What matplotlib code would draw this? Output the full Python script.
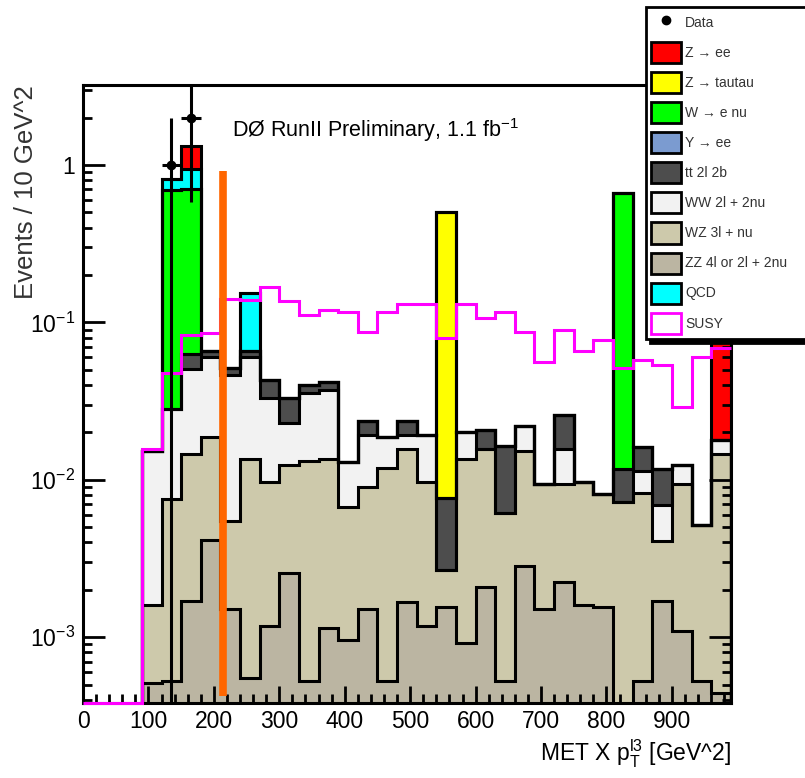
import numpy as np
import matplotlib
matplotlib.use('Agg')
import matplotlib.pyplot as plt
from matplotlib.patches import Patch
from matplotlib.lines import Line2D
from matplotlib.ticker import FixedLocator, FixedFormatter, MultipleLocator, LogLocator, NullFormatter

plt.rcParams['font.family'] = ['Liberation Sans', 'DejaVu Sans']
plt.rcParams['mathtext.default'] = 'regular'

# 33 bins of 30 GeV^2 from 0 to 990
bin_edges = np.arange(0, 991, 30)

# per-process contributions (stacked bottom -> top)
zz = [0, 0, 0, 5.1e-4, 5.3e-4, 1.69e-3, 4.13e-3, 1.50e-3, 5.5e-4, 1.18e-3, 2.56e-3,
      5.3e-4, 1.14e-3, 9.6e-4, 1.50e-3, 5.3e-4, 1.67e-3, 1.17e-3, 1.56e-3, 9.2e-4, 2.07e-3,
      5.3e-4, 2.84e-3, 1.50e-3, 2.24e-3, 1.61e-3, 1.56e-3, 0, 5.3e-4, 1.69e-3, 1.09e-3,
      5.3e-4, 4.4e-4]
wz = [0, 0, 0, 1.10e-3, 7.07e-3, 1.29e-2, 1.45e-2, 4.0e-3, 1.30e-2, 8.5e-3, 9.8e-3,
      1.27e-2, 1.25e-2, 5.8e-3, 7.5e-3, 1.13e-2, 1.41e-2, 8.5e-3, 1.10e-3, 1.27e-2, 1.37e-2,
      5.6e-3, 1.24e-2, 7.9e-3, 7.1e-3, 8.1e-3, 6.6e-3, 7.2e-3, 7.7e-3, 2.4e-3, 8.3e-3,
      4.6e-3, 1.41e-2]
ww = [0, 0, 0, 1.36e-2, 2.04e-2, 3.64e-2, 4.18e-2, 4.07e-2, 4.69e-2, 2.32e-2, 1.05e-2,
      2.23e-2, 2.36e-2, 6.3e-3, 1.02e-2, 6.9e-3, 3.4e-3, 9.7e-3, 0, 6.6e-3, 0,
      0, 6.7e-3, 0, 6.4e-3, 0, 0, 0, 3.1e-3, 2.8e-3, 3.0e-3,
      0, 3.5e-3]
tt = [0, 0, 0, 0, 0, 1.25e-2, 5.6e-3, 4.8e-3, 5.6e-3, 1.05e-2, 1.01e-2,
      4.5e-3, 4.8e-3, 0, 4.4e-3, 0, 4.4e-3, 0, 5.0e-3, 0, 5.1e-3,
      1.02e-2, 0, 0, 9.9e-3, 0, 0, 4.6e-3, 4.8e-3, 4.9e-3, 0,
      0, 0]
y_ee = [0, 0, 0, 0, 0, 0, 0, 0, 0, 0, 0,
        0, 0, 0, 0, 0, 0, 0, 0, 0, 0,
        0, 0, 0, 0, 0, 0, 0, 0, 0, 0,
        0, 0]
w_enu = [0, 0, 0, 0, 0.666, 0.637, 0, 0, 0, 0, 0,
         0, 0, 0, 0, 0, 0, 0, 0, 0, 0,
         0, 0, 0, 0, 0, 0, 0.655, 0, 0, 0,
         0, 0]
z_tautau = [0, 0, 0, 0, 0, 0, 0, 0, 0, 0, 0,
            0, 0, 0, 0, 0, 0, 0, 0.497, 0, 0,
            0, 0, 0, 0, 0, 0, 0, 0, 0, 0,
            0, 0]
qcd = [0, 0, 0, 0, 0.124, 0.239, 0, 0, 0.087, 0, 0,
       0, 0, 0, 0, 0, 0, 0, 0, 0, 0,
       0, 0, 0, 0, 0, 0, 0, 0, 0, 0,
       0, 0]
z_ee = [0, 0, 0, 0, 0, 0.381, 0, 0, 0, 0, 0,
        0, 0, 0, 0, 0, 0, 0, 0, 0, 0,
        0, 0, 0, 0, 0, 0, 0, 0, 0, 0,
        0, 0.10]
susy = [0, 0, 0, 0.0158, 0.0478, 0.083, 0.0863, 0.142, 0.139, 0.167, 0.137,
        0.111, 0.120, 0.117, 0.087, 0.117, 0.131, 0.131, 0.080, 0.131, 0.106,
        0.116, 0.087, 0.0562, 0.0902, 0.066, 0.0772, 0.051, 0.0576, 0.0535, 0.0291,
        0.0599, 0.0684]

data_x = [135, 165]
data_y = [1, 2]

cut_x = 214
cut_range = [4.2e-4, 0.92]

stack = [zz, wz, ww, tt, y_ee, w_enu, z_tautau, qcd, z_ee]
stack_colors = ['#bbb5a2', '#cdc9ab', '#f2f2f2', '#4d4d4d', '#7b9bd0',
                '#00ff00', '#ffff00', '#00ffff', '#ff0000']

ymin, ymax = 3.8e-4, 3.23
floor = 1e-9

fig = plt.figure(figsize=(8.05, 7.78), dpi=100)
ax = fig.add_axes([83 / 805, (778 - 703.3) / 778, 647.8 / 805, 618.3 / 778])

cum = np.cumsum(np.array(stack), axis=0)
for k in reversed(range(len(stack))):
    top = np.where(cum[k] > 0, cum[k], floor)
    ax.stairs(top, bin_edges, baseline=floor, fill=True, color=stack_colors[k], lw=0, zorder=1)
    ax.stairs(top, bin_edges, baseline=floor, color='black', lw=2.2, zorder=1.5)

susy_plot = np.where(np.array(susy) > 0, susy, ymin)
ax.stairs(susy_plot, bin_edges, baseline=None, color='#ff00ff', lw=2.2, zorder=3, clip_on=False)

ax.plot([cut_x, cut_x], cut_range, color='#ff6600', lw=5.5, solid_capstyle='butt', zorder=4)

dy = np.sqrt(data_y)
lo = np.array(data_y) - np.maximum(np.array(data_y) - dy, floor)
ax.errorbar(data_x, data_y, yerr=[lo, dy], xerr=15, fmt='o', color='black', ms=6,
            elinewidth=2.2, capsize=0, zorder=5)

ax.set_yscale('log')
ax.set_xlim(0, 990)
ax.set_ylim(ymin, ymax)

ax.xaxis.set_major_locator(MultipleLocator(100))
ax.xaxis.set_minor_locator(MultipleLocator(20))
ax.yaxis.set_major_locator(FixedLocator([1e-3, 1e-2, 1e-1, 1]))
ax.yaxis.set_major_formatter(FixedFormatter(['$10^{-3}$', '$10^{-2}$', '$10^{-1}$', '1']))
ax.yaxis.set_minor_locator(LogLocator(base=10, subs=np.arange(2, 10)))
ax.yaxis.set_minor_formatter(NullFormatter())

ax.tick_params(which='both', direction='in', top=False, right=True, width=2, labelsize=16.5)
ax.tick_params(axis='x', which='major', length=12, pad=5)
ax.tick_params(axis='x', which='minor', length=6.5)
ax.tick_params(axis='y', which='major', length=15.5, pad=6)
ax.tick_params(axis='y', which='minor', length=6.5)
for s in ax.spines.values():
    s.set_linewidth(2.2)

ax.set_xlabel('MET X $p_{T}^{l3}$ [GeV^2]', loc='right', fontsize=16.5, labelpad=3)
ax.set_ylabel('Events / 10 GeV^2', loc='top', fontsize=18.5, color='#333333')
ax.yaxis.set_label_coords(-0.070, 1.0)

ax.text(0.23, 0.927, 'DØ RunII Preliminary, 1.1 fb$^{-1}$', transform=ax.transAxes,
        fontsize=15.5, va='center', ha='left')

labels = ['Data', 'Z → ee', 'Z → tautau', 'W → e nu', 'Y → ee', 'tt 2l 2b',
          'WW 2l + 2nu', 'WZ 3l + nu', 'ZZ 4l or 2l + 2nu', 'QCD', 'SUSY']
legend_colors = ['#ff0000', '#ffff00', '#00ff00', '#7b9bd0', '#4d4d4d',
                 '#f2f2f2', '#cdc9ab', '#bbb5a2', '#00ffff']
handles = [Line2D([], [], color='black', marker='o', ls='none', ms=6)]
handles += [Patch(facecolor=c, edgecolor='black', lw=2) for c in legend_colors]
handles.append(Patch(facecolor='white', edgecolor='#ff00ff', lw=2))

leg = ax.legend(handles, labels, loc='upper left',
                bbox_to_anchor=(645.7 / 805, 1 - 6.7 / 778, 200 / 805, 0),
                bbox_transform=fig.transFigure, mode='expand', borderaxespad=0,
                fontsize=10, labelcolor='#333333', fancybox=False,
                handlelength=2.15, handleheight=1.95, handletextpad=0.3,
                labelspacing=0.65, borderpad=0.4,
                shadow={'ox': 3, 'oy': -3, 'color': 'black', 'alpha': 1})
leg.get_frame().set_edgecolor('black')
leg.get_frame().set_linewidth(2)
leg.set_zorder(10)

fig.savefig('out.png', dpi=100, facecolor='white')
